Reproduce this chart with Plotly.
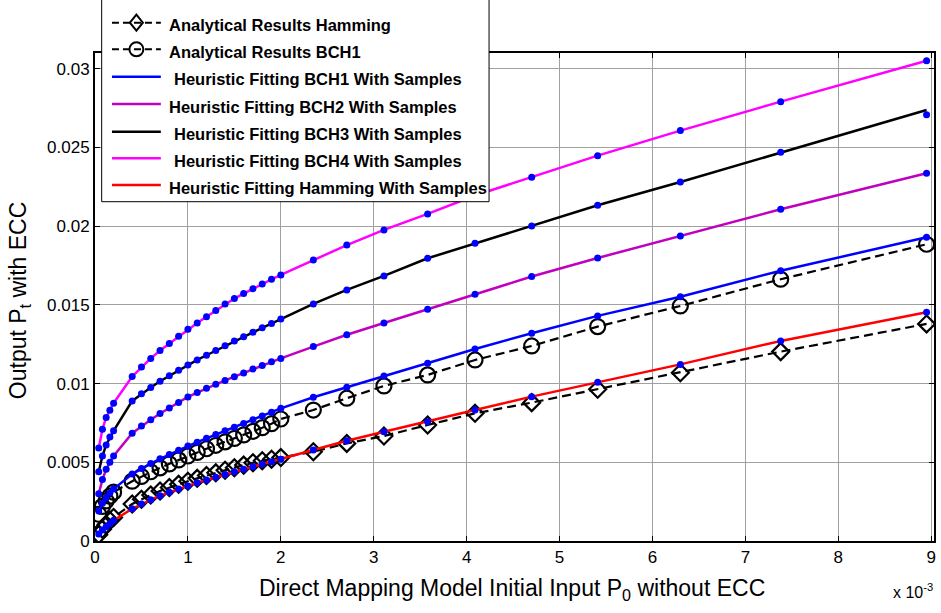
import plotly.graph_objects as go

# ---------------- data (x in units of 1e-3, y in units of 1e-3) ----------------
p0_e3 = [0.04, 0.08, 0.12, 0.16, 0.2, 0.4, 0.5, 0.6, 0.7, 0.8, 0.9, 1.0, 1.1, 1.2,
         1.3, 1.4, 1.5, 1.6, 1.7, 1.8, 1.9, 2.0, 2.35, 2.71, 3.11, 3.58, 4.09, 4.70,
         5.41, 6.30, 7.38, 8.95]

hamming_analytical = [0.4, 0.75, 1.05, 1.3, 1.5, 2.35, 2.65, 2.92, 3.18, 3.4, 3.6, 3.8,
                      3.98, 4.16, 4.33, 4.5, 4.66, 4.82, 4.97, 5.1, 5.2, 5.3, 5.67, 6.2,
                      6.67, 7.37, 8.11, 8.79, 9.64, 10.69, 12.03, 13.79]
bch1_analytical = [1.7, 2.2, 2.55, 2.85, 3.1, 3.8, 4.1, 4.4, 4.65, 4.9, 5.15, 5.4, 5.63,
                   5.86, 6.08, 6.3, 6.52, 6.74, 6.97, 7.2, 7.45, 7.75, 8.32, 9.07, 9.85,
                   10.55, 11.5, 12.39, 13.62, 14.93, 16.63, 18.85]
bch1_fit = [1.9, 2.4, 2.75, 3.05, 3.3, 4.25, 4.6, 4.92, 5.22, 5.5, 5.77, 6.03, 6.28, 6.52,
            6.76, 7.0, 7.23, 7.46, 7.7, 7.94, 8.18, 8.43, 9.13, 9.76, 10.48, 11.29, 12.2,
            13.2, 14.3, 15.52, 17.17, 19.29]
bch2_fit = [3.0, 3.9, 4.55, 5.0, 5.4, 6.85, 7.3, 7.7, 8.1, 8.45, 8.8, 9.15, 9.43, 9.7,
            9.95, 10.2, 10.44, 10.68, 10.92, 11.15, 11.38, 11.6, 12.35, 13.1, 13.85,
            14.72, 15.67, 16.8, 17.98, 19.38, 21.07, 23.36]
bch3_fit = [4.4, 5.4, 6.1, 6.6, 7.0, 8.9, 9.35, 9.75, 10.15, 10.5, 10.85, 11.18, 11.5,
            11.8, 12.1, 12.4, 12.7, 12.98, 13.26, 13.54, 13.82, 14.1, 15.06, 15.95,
            16.84, 17.96, 18.91, 20.01, 21.33, 22.81, 24.69, 27.38]
bch3_samples = [4.4, 5.4, 6.1, 6.6, 7.0, 8.9, 9.35, 9.75, 10.15, 10.5, 10.85, 11.18, 11.5,
                11.8, 12.1, 12.4, 12.7, 12.98, 13.26, 13.54, 13.82, 14.1, 15.06, 15.95,
                16.84, 17.96, 18.91, 20.01, 21.33, 22.81, 24.69, 27.07]
bch4_fit = [5.9, 7.1, 7.85, 8.3, 8.75, 10.45, 11.05, 11.6, 12.1, 12.55, 13.0, 13.45,
            13.85, 14.25, 14.65, 15.05, 15.4, 15.72, 16.03, 16.33, 16.62, 16.9, 17.85,
            18.8, 19.76, 20.78, 21.95, 23.1, 24.48, 26.07, 27.91, 30.51]
hamming_fit = [0.45, 0.7, 0.9, 1.1, 1.3, 2.05, 2.35, 2.62, 2.88, 3.1, 3.3, 3.5, 3.7,
               3.88, 4.05, 4.22, 4.4, 4.56, 4.72, 4.88, 5.03, 5.19, 5.78, 6.37, 6.94,
               7.58, 8.32, 9.17, 10.08, 11.22, 12.71, 14.53]

x_tick_vals = [0, 1, 2, 3, 4, 5, 6, 7, 8, 9]
x_tick_text = ["0", "1", "2", "3", "4", "5", "6", "7", "8", "9"]
y_tick_vals = [0, 0.005, 0.01, 0.015, 0.02, 0.025, 0.03]
y_tick_text = ["0", "0.005", "0.01", "0.015", "0.02", "0.025", "0.03"]

legend_labels = ["Analytical Results Hamming", "Analytical Results BCH1",
                 "Heuristic Fitting BCH1 With Samples", "Heuristic Fitting BCH2 With Samples",
                 "Heuristic Fitting BCH3 With Samples", "Heuristic Fitting BCH4 With Samples",
                 "Heuristic Fitting Hamming With Samples"]

# ---------------- styles ----------------
FONT = "Liberation Sans, Arial, Helvetica, sans-serif"
BLUE, PURPLE, BLACK, MAGENTA, RED = "#0000FF", "#BF00BF", "#000000", "#FF00FF", "#FF0000"

W, H = 941, 613
L, R, T, B = 95, 5, 53, 72
PW, PH = W - L - R, H - T - B


def pxx(x):
    return (x - L) / PW


def pxy(y):
    return (H - B - y) / PH


def scale(v):
    return [a * 1e-3 for a in v]


fig = go.Figure()

# analytical curves
fig.add_trace(go.Scatter(x=p0_e3, y=scale(hamming_analytical), mode="lines+markers",
                         line=dict(color="black", width=2.2, dash="9px,5px"),
                         marker=dict(symbol="diamond-open", size=13, color="black",
                                     line=dict(color="black", width=2.2)),
                         showlegend=False))
fig.add_trace(go.Scatter(x=p0_e3, y=scale(bch1_analytical), mode="lines+markers",
                         line=dict(color="black", width=2.2, dash="9px,5px"),
                         marker=dict(symbol="circle-open", size=15, color="black",
                                     line=dict(color="black", width=2.2)),
                         showlegend=False))

# fitting lines
for vals, col in [(bch1_fit, BLUE), (bch2_fit, PURPLE), (bch3_fit, BLACK),
                  (bch4_fit, MAGENTA), (hamming_fit, RED)]:
    fig.add_trace(go.Scatter(x=p0_e3, y=scale(vals), mode="lines",
                             line=dict(color=col, width=2.5), showlegend=False))

# samples
for vals in [bch1_fit, bch2_fit, bch3_samples, bch4_fit, hamming_fit]:
    fig.add_trace(go.Scatter(x=p0_e3, y=scale(vals), mode="markers",
                             marker=dict(color=BLUE, size=7), showlegend=False))

# ---------------- custom legend ----------------
shapes = []
annotations = []
shapes.append(dict(type="rect", xref="paper", yref="paper", x0=pxx(101.7), x1=pxx(490),
                   y0=pxy(201.7), y1=pxy(-6), line=dict(color="black", width=1),
                   fillcolor="white", layer="above"))
line_y = [22.7, 49.3, 76.7, 104, 131.7, 158.3, 185]
text_x = [166.7, 166.7, 171.7, 166.7, 171.7, 171.7, 166.7]
line_cols = [BLACK, BLACK, BLUE, PURPLE, BLACK, MAGENTA, RED]
for i, lab in enumerate(legend_labels):
    yy = line_y[i]
    dash = "7px,4px" if i < 2 else "solid"
    shapes.append(dict(type="line", xref="paper", yref="paper", x0=pxx(112), x1=pxx(161),
                       y0=pxy(yy), y1=pxy(yy),
                       line=dict(color=line_cols[i], width=2.5 if i >= 2 else 2, dash=dash),
                       layer="above"))
    annotations.append(dict(xref="paper", yref="paper", x=pxx(text_x[i]), y=pxy(yy + 2.6),
                            xanchor="left", yanchor="middle", showarrow=False,
                            text="<b>" + lab + "</b>",
                            font=dict(family=FONT, size=16.5, color="black")))
# diamond marker in legend
cx, cy = 136.5, line_y[0]
shapes.append(dict(type="path", xref="paper", yref="paper",
                   path="M {},{} L {},{} L {},{} L {},{} Z".format(
                       pxx(cx - 6.5), pxy(cy), pxx(cx), pxy(cy - 8),
                       pxx(cx + 6.5), pxy(cy), pxx(cx), pxy(cy + 8)),
                   line=dict(color="black", width=2), fillcolor="rgba(0,0,0,0)", layer="above"))
cx, cy = 136.5, line_y[1]
shapes.append(dict(type="circle", xref="paper", yref="paper",
                   x0=pxx(cx - 7), x1=pxx(cx + 7), y0=pxy(cy + 7), y1=pxy(cy - 7),
                   line=dict(color="black", width=2), fillcolor="rgba(0,0,0,0)", layer="above"))

# axis titles
annotations.append(dict(xref="paper", yref="paper", x=pxx(513), y=pxy(589),
                        xanchor="center", yanchor="middle", showarrow=False,
                        text="Direct Mapping Model Initial Input P<sub>0</sub> without ECC",
                        font=dict(family=FONT, size=23, color="black")))
annotations.append(dict(xref="paper", yref="paper", x=pxx(19), y=pxy(300),
                        xanchor="center", yanchor="middle", showarrow=False, textangle=-90,
                        text="Output P<sub>t</sub> with ECC",
                        font=dict(family=FONT, size=23, color="black")))
annotations.append(dict(xref="paper", yref="paper", x=pxx(937), y=pxy(591),
                        xanchor="right", yanchor="middle", showarrow=False,
                        text="x 10<sup>-3</sup>",
                        font=dict(family=FONT, size=16, color="black")))

axis_common = dict(showline=True, linewidth=2, linecolor="black", mirror="allticks",
                   ticks="inside", ticklen=5, tickwidth=1, tickcolor="black",
                   showgrid=True, gridcolor="rgb(160,160,160)", gridwidth=1, zeroline=False,
                   tickfont=dict(family=FONT, size=17, color="black"))

fig.update_layout(
    width=W, height=H, margin=dict(l=L, r=R, t=T, b=B, pad=0),
    paper_bgcolor="white", plot_bgcolor="white", showlegend=False,
    xaxis=dict(range=[0, 9.03], tickvals=x_tick_vals, ticktext=x_tick_text, **axis_common),
    yaxis=dict(range=[0, 0.031], tickvals=y_tick_vals, ticktext=y_tick_text, **axis_common),
    shapes=shapes, annotations=annotations,
)

fig.write_html("out.html")
